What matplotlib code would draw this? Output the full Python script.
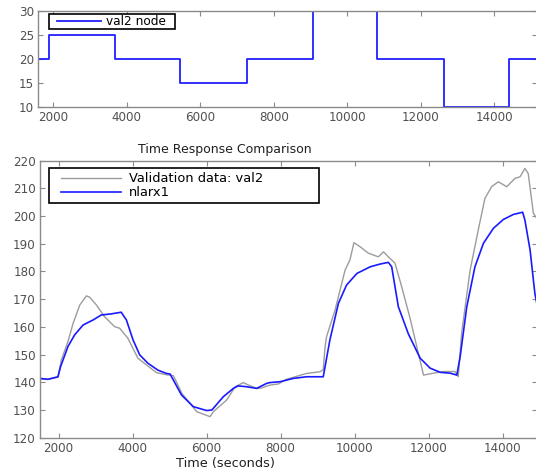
import numpy as np
import matplotlib
matplotlib.use('Agg')
import matplotlib.pyplot as plt
from matplotlib.patches import Rectangle

# input signal (step levels, post-step)
u_time = [1500, 1870, 3670, 5460, 7270, 9060, 10820, 12640, 14410, 15300]
u_level = [20, 25, 20, 15, 20, 35, 20, 10, 20, 20]

# measured output (validation data)
val_time = [1500, 1700, 1980, 2070, 2250, 2390, 2570, 2750, 2840, 3020, 3240, 3510, 3650,
            3870, 4140, 4410, 4640, 4920, 5100, 5330, 5730, 6090, 6180, 6540, 6770, 6990,
            7130, 7350, 7440, 7710, 7940, 8160, 8700, 9060, 9150, 9200, 9240, 9470, 9740,
            9870, 9980, 10140, 10370, 10640, 10780, 10910, 11090, 11270, 11500, 11720,
            11860, 12130, 12400, 12710, 12800, 12890, 13120, 13340, 13520, 13700, 13880,
            14110, 14330, 14470, 14600, 14690, 14830, 14930]
val_y = [141.2, 141.0, 141.8, 148.0, 154.7, 161.3, 167.9, 171.2, 170.7, 167.9, 163.7, 160.1,
         159.5, 155.9, 148.7, 145.9, 143.5, 142.7, 142.4, 136.0, 129.4, 127.6, 129.4, 133.6,
         138.4, 139.9, 139.0, 137.8, 137.8, 139.0, 139.4, 141.1, 143.2, 143.8, 144.5, 152.9,
         156.5, 166.1, 180.5, 184.1, 190.4, 189.0, 186.6, 185.3, 187.1, 185.3, 183.0, 174.5,
         163.0, 150.5, 142.6, 143.3, 143.9, 143.9, 142.0, 157.7, 180.5, 195.0, 206.4, 210.6,
         212.4, 210.6, 213.6, 214.2, 217.2, 215.4, 201.0, 199.0]

# model output (nlarx1)
mod_time = [1500, 1710, 1980, 2050, 2250, 2430, 2660, 2930, 3150, 3420, 3690, 3830, 4010,
            4190, 4410, 4680, 4910, 5010, 5320, 5640, 6000, 6140, 6450, 6720, 6850, 7080,
            7350, 7620, 7710, 7980, 8340, 8700, 9150, 9330, 9560, 9780, 10060, 10420, 10690,
            10910, 11000, 11180, 11450, 11770, 12040, 12310, 12580, 12760, 12850, 13030,
            13250, 13480, 13750, 14020, 14290, 14540, 14600, 14740, 14870, 14930]
mod_y = [141.4, 141.1, 142.0, 145.6, 152.9, 157.1, 160.7, 162.5, 164.3, 164.7, 165.3, 162.5,
         155.3, 149.9, 146.9, 144.4, 143.2, 143.0, 135.4, 131.2, 129.8, 130.0, 134.8, 137.8,
         138.7, 138.4, 137.8, 139.6, 139.9, 140.2, 141.4, 142.0, 142.0, 155.3, 168.5, 175.1,
         179.3, 181.7, 182.7, 183.3, 181.7, 167.3, 157.5, 148.7, 145.1, 143.6, 143.3, 142.6,
         149.2, 167.3, 181.7, 190.2, 195.6, 198.8, 200.6, 201.4, 198.6, 187.8, 172.1, 168.0]

W, H = 536, 470
fig = plt.figure(figsize=(W / 100, H / 100), dpi=100)

spine_col = '#8a8a8a'
tick_col = '#505050'
fs = 8.6


def style_ax(ax):
    for s in ax.spines.values():
        s.set_color(spine_col)
        s.set_linewidth(1.0)
    ax.tick_params(direction='in', top=True, right=True, length=3.5, width=0.8,
                   color=spine_col, labelcolor=tick_col, labelsize=fs, pad=3)


def legend_box(x0, y0, x1, y1):
    # black frame drawn in pixel coords (top-left origin)
    fig.patches.append(Rectangle((x0 / W, 1 - y1 / H), (x1 - x0) / W, (y1 - y0) / H,
                                 transform=fig.transFigure, facecolor='white',
                                 edgecolor='black', lw=1.2, zorder=5))


# --- top: input ---
ax1 = fig.add_axes([38.3 / W, 1 - 107 / H, (537 - 38.3) / W, (107 - 11) / H])
ax1.step(u_time, u_level, where='post', color='#2020ff', lw=1.3, label='val2 node')
ax1.set_xlim(1592, 1592 + (537 - 38.3) / 73.5 * 2000)
ax1.set_ylim(10, 30)
ax1.set_yticks([10, 15, 20, 25, 30])
ax1.set_xticks(np.arange(2000, 15000, 2000))
style_ax(ax1)
legend_box(49, 14, 175, 29)
fs_l1 = 8.7
leg1 = fig.legend(*ax1.get_legend_handles_labels(), loc='center left',
                  bbox_to_anchor=(57 / W, 1 - 21.5 / H), frameon=False, fontsize=fs_l1,
                  handlelength=44 / (fs_l1 * 1.389), handletextpad=5 / (fs_l1 * 1.389),
                  borderpad=0, borderaxespad=0)
leg1.set_zorder(6)

# --- bottom: output comparison ---
ax2 = fig.add_axes([40 / W, 1 - 437.7 / H, (537 - 40) / W, (437.7 - 160.7) / H])
ax2.plot(val_time, val_y, color='#9c9c9c', lw=1.0, label='Validation data: val2')
ax2.plot(mod_time, mod_y, color='#1a1aff', lw=1.2, label='nlarx1')
ax2.set_xlim(1495, 1495 + (537 - 40) / 74 * 2000)
ax2.set_ylim(120, 220)
ax2.set_yticks(np.arange(120, 221, 10))
ax2.set_xticks(np.arange(2000, 15000, 2000))
style_ax(ax2)
legend_box(49, 168, 319, 203)
fs_l2 = 9.4
leg2 = fig.legend(*ax2.get_legend_handles_labels(), loc='center left',
                  bbox_to_anchor=(61 / W, 1 - 185.8 / H), frameon=False, fontsize=fs_l2,
                  handlelength=60 / (fs_l2 * 1.389), handletextpad=8 / (fs_l2 * 1.389),
                  labelspacing=0.05, borderpad=0, borderaxespad=0)
leg2.set_zorder(6)

fig.text(225 / W, 1 - 149 / H, 'Time Response Comparison', ha='center', va='center',
         fontsize=9.0, color='#202020')
fig.text(226 / W, 1 - 464 / H, 'Time (seconds)', ha='center', va='center',
         fontsize=9.3, color='#202020')

fig.savefig('out.png', dpi=100)
